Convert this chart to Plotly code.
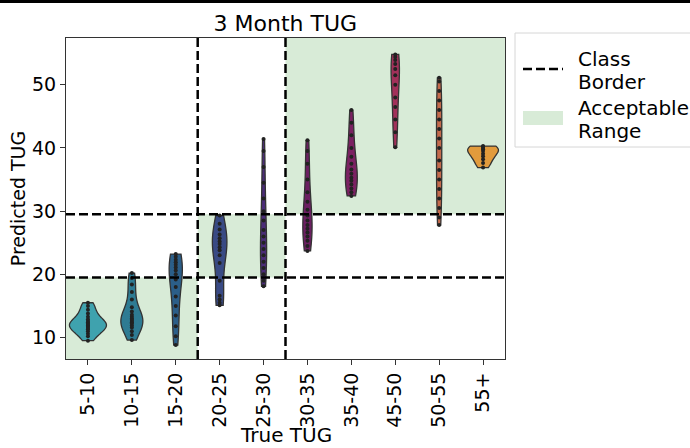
import plotly.graph_objects as go

# TUG classes on the x axis
categories = ["5-10", "10-15", "15-20", "20-25", "25-30",
              "30-35", "35-40", "45-50", "50-55", "55+"]

# Predicted TUG values per true class
predicted = {
    "5-10": [9.5, 10.2, 10.6, 11.0, 11.3, 11.5, 11.7, 11.9, 12.0, 12.2, 12.4,
             12.6, 12.9, 13.3, 13.8, 14.4, 15.0, 15.5],
    "10-15": [9.6, 10.4, 11.0, 11.6, 11.9, 12.2, 12.4, 12.6, 12.8, 13.0, 13.3,
              13.6, 14.1, 14.8, 16.0, 17.2, 18.4, 19.4, 20.2],
    "15-20": [8.8, 10.2, 11.8, 13.5, 15.0, 16.5, 18.0, 19.2, 20.0, 20.6, 21.1,
              21.5, 21.9, 22.3, 22.8, 23.2],
    "20-25": [15.1, 15.5, 16.0, 16.6, 19.0, 21.8, 23.0, 23.8, 24.3, 24.8, 25.2,
              25.7, 26.3, 27.1, 28.0, 29.3],
    "25-30": [18.1, 19.0, 20.0, 21.0, 22.0, 23.0, 24.0, 25.0, 26.0, 27.0, 28.5,
              30.0, 32.0, 34.5, 37.0, 39.5, 41.4],
    "30-35": [23.7, 24.5, 25.3, 26.0, 26.6, 27.2, 27.8, 28.5, 29.3, 30.2, 31.5,
              33.0, 35.0, 37.5, 39.5, 41.2],
    "35-40": [32.4, 33.0, 33.6, 34.2, 34.8, 35.3, 35.9, 36.6, 37.5, 38.6, 40.0,
              42.0, 44.0, 46.0],
    "45-50": [40.1, 42.5, 44.5, 46.5, 48.0, 50.0, 51.5, 52.5, 53.3, 53.9, 54.4,
              54.8],
    "50-55": [27.8, 29.0, 30.5, 32.0, 33.5, 35.0, 36.5, 38.0, 40.0, 41.5, 43.0,
              44.5, 46.0, 47.5, 49.0, 50.5, 51.1],
    "55+": [36.9, 37.6, 38.2, 38.7, 39.1, 39.5, 39.8, 40.0, 40.2, 40.3],
}

# Class borders on the predicted axis and between x categories
class_borders = [19.5, 29.5]
category_borders = [2.5, 4.5]

# Legend labels
legend_labels = [["Class", "Border"], ["Acceptable", "Range"]]

colors = ["#3fa2ae", "#2e7b93", "#2b5e88", "#394a84", "#4b2c78",
          "#6c1f62", "#7b2162", "#a2305a", "#c46a4c", "#e29b3c"]
widths = [0.84, 0.5, 0.3, 0.33, 0.14, 0.21, 0.27, 0.19, 0.12, 0.7]

FONT = "DejaVu Sans"
GREEN = "rgb(216,235,215)"
DASH = dict(color="black", width=2.5, dash="9px,4px")

# Figure geometry (pixels) used to place the hand-built legend and x title
W, H = 690, 448
ML, MR, MT, MB = 66, 185, 38, 89
PW, PH = W - ML - MR, H - MT - MB


def px(x):
    return (x - ML) / PW


def py(y):
    return (H - MB - y) / PH


fig = go.Figure()

for cat, col, w in zip(categories, colors, widths):
    vals = predicted[cat]
    fig.add_trace(go.Violin(
        x=[cat] * len(vals), y=vals, name=cat,
        fillcolor=col, opacity=1,
        line=dict(color="#333333", width=1.3),
        points="all", pointpos=0, jitter=0,
        marker=dict(color="#222222", size=4),
        spanmode="hard", scalemode="width", width=w,
        box_visible=False, meanline_visible=False,
        showlegend=False, hoverinfo="skip",
    ))

shapes = []
# Acceptable-range regions
shapes.append(dict(type="rect", xref="x", yref="y", x0=-0.5, x1=category_borders[0],
                   y0=0, y1=class_borders[0], layer="below", line_width=0, fillcolor=GREEN))
shapes.append(dict(type="rect", xref="x", yref="y", x0=category_borders[0], x1=category_borders[1],
                   y0=class_borders[0], y1=class_borders[1], layer="below", line_width=0,
                   fillcolor=GREEN))
shapes.append(dict(type="rect", xref="x", yref="y", x0=category_borders[1], x1=9.5,
                   y0=class_borders[1], y1=60, layer="below", line_width=0, fillcolor=GREEN))
# Class border lines
for yb in class_borders:
    shapes.append(dict(type="line", xref="paper", yref="y", x0=0, x1=1, y0=yb, y1=yb,
                       layer="above", line=DASH))
for xb in category_borders:
    shapes.append(dict(type="line", xref="x", yref="paper", x0=xb, x1=xb, y0=0, y1=1,
                       layer="above", line=DASH))
# Rule across the top of the page
shapes.append(dict(type="rect", xref="paper", yref="paper", x0=px(-5), x1=px(W + 5),
                   y0=py(3), y1=py(-5), line_width=0, fillcolor="black"))

# Legend frame and symbols
shapes.append(dict(type="rect", xref="paper", yref="paper", x0=px(515), x1=px(W + 10),
                   y0=py(147), y1=py(33), line=dict(color="#d6d6d6", width=1),
                   fillcolor="white"))
shapes.append(dict(type="line", xref="paper", yref="paper", x0=px(523), x1=px(563),
                   y0=py(69), y1=py(69), line=DASH))
shapes.append(dict(type="rect", xref="paper", yref="paper", x0=px(523), x1=px(563),
                   y0=py(125), y1=py(111), line_width=0, fillcolor=GREEN))

annotations = []
line_rows = [[59, 82], [108, 131]]
for labels, rows in zip(legend_labels, line_rows):
    for text, row in zip(labels, rows):
        annotations.append(dict(text=text, xref="paper", yref="paper", x=px(576), y=py(row),
                                xanchor="left", yanchor="middle", showarrow=False,
                                font=dict(family=FONT, size=20, color="black")))
# x-axis title
annotations.append(dict(text="True TUG", xref="paper", yref="paper", x=0.5, y=py(435),
                        xanchor="center", yanchor="middle", showarrow=False,
                        font=dict(family=FONT, size=20, color="black")))

fig.update_layout(
    width=W, height=H, autosize=False,
    margin=dict(l=ML, r=MR, t=MT, b=MB),
    paper_bgcolor="white", plot_bgcolor="white",
    font=dict(family=FONT, size=19, color="black"),
    title=dict(text="3 Month TUG", x=0.4135, xanchor="center", y=0.948, yanchor="middle",
               font=dict(family=FONT, size=22)),
    violinmode="overlay",
    showlegend=False,
    shapes=shapes,
    annotations=annotations,
    xaxis=dict(
        type="category", categoryorder="array", categoryarray=categories,
        range=[-0.5, 9.5], tickangle=-90,
        showline=True, linecolor="#333333", linewidth=1, mirror=True,
        ticks="outside", ticklen=5, tickcolor="#333333",
        showgrid=False, zeroline=False,
    ),
    yaxis=dict(
        range=[6.6, 57.4], tickvals=[10, 20, 30, 40, 50],
        showline=True, linecolor="#333333", linewidth=1, mirror=True,
        ticks="outside", ticklen=5, tickcolor="#333333",
        showgrid=False, zeroline=False,
        title=dict(text="Predicted TUG", standoff=1, font=dict(size=19)),
    ),
)

fig.write_html("out.html")
